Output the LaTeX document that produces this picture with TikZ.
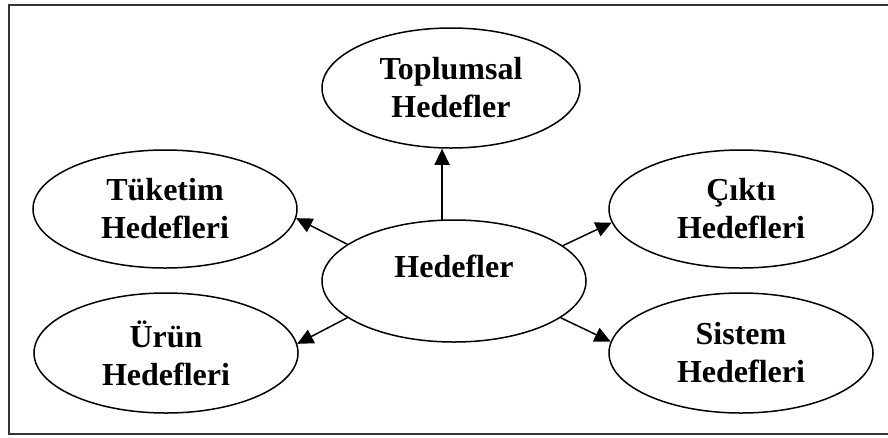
\documentclass[tikz,border=0pt]{standalone}
\usepackage{fontspec}
\setmainfont{Liberation Serif}
\usetikzlibrary{shapes.geometric,arrows.meta}
\begin{document}
\begin{tikzpicture}[x=1pt,y=-1pt,
  goal/.style={ellipse,draw,line width=1.5pt,inner sep=0pt,
    minimum width=264pt,minimum height=120pt,align=center,
    font=\fontsize{32}{38}\selectfont\bfseries},
  arr/.style={line width=1.5pt,-{Triangle[length=16pt,width=15pt]}}]
  \clip (0,0) rectangle (888,437);
  % outer frame
  \draw[line width=2.5pt,black!80] (9,5) rectangle (900,434);
  % goal ellipses
  \node[goal,minimum width=258pt] (top) at (451,88) {Toplumsal\\Hedefler};
  \node[goal,minimum height=118pt] (tuk) at (165,209) {Tüketim\\Hedefleri};
  \node[goal,minimum height=118pt] (cik) at (741,209) {Çıktı\\Hedefleri};
  \node[goal,minimum height=122pt,text height=22pt,text depth=30pt] (hed) at (454,281) {Hedefler};
  \node[goal] (uru) at (166,353) {Ürün\\Hedefleri};
  \node[goal] (sis) at (741,353) {Sistem\\Hedefleri};
  % connectors from the central goal
  \draw[arr] (hed.101) -- (hed.101 |- top.south);
  \draw[arr] (hed.161.4) -- (tuk.-4.7);
  \draw[arr] (hed.18.6) -- (cik.-174.4);
  \draw[arr] (hed.-161) -- (uru.4.8);
  \draw[arr] (hed.-19) -- (sis.175.6);
\end{tikzpicture}
\end{document}
